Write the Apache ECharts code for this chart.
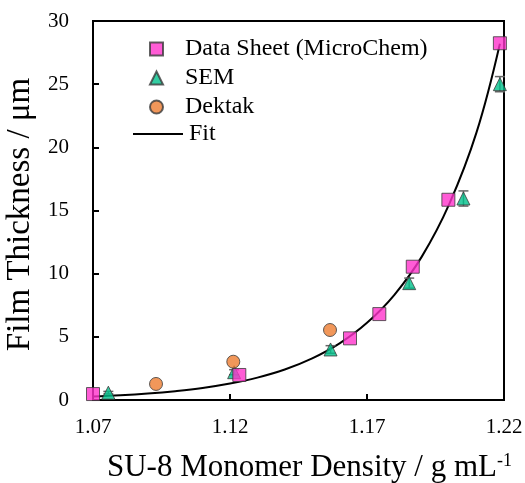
<!DOCTYPE html>
<html>
<head>
<meta charset="utf-8">
<script src="https://cdn.jsdelivr.net/npm/echarts@6/dist/echarts.min.js"></script>
<style>html,body{margin:0;padding:0;background:#fff;}#c{width:525px;height:483px;}</style>
</head>
<body>
<div id="c"></div>
<script>
// Data
var dsX = [1.070, 1.1234, 1.1638, 1.1745, 1.1867, 1.1997, 1.2185];
var dsY = [0.47, 1.98, 4.88, 6.8, 10.55, 15.85, 28.24];
var semX = [1.0756, 1.1215, 1.1567, 1.1854, 1.2052, 1.2185];
var semY = [0.58, 2.2, 4.0, 9.25, 15.95, 25.0];
var semErr = [0.1, 0.2, 0.3, 0.4, 0.6, 0.6];
var dkX = [1.093, 1.1212, 1.1565];
var dkY = [1.27, 3.03, 5.54];
var fitX = [1.07, 1.08, 1.09, 1.10, 1.11, 1.12, 1.13, 1.14, 1.15, 1.16, 1.17, 1.18, 1.19, 1.20, 1.21, 1.2185];
var fitY = [0.27, 0.37, 0.51, 0.70, 0.95, 1.30, 1.77, 2.41, 3.29, 4.48, 6.11, 8.33, 11.35, 15.5, 21.2, 28.2];
var xTicks = [1.07, 1.12, 1.17, 1.22];
var yTicks = [0, 5, 10, 15, 20, 25, 30];

function pairs(xs, ys) { return xs.map(function (x, i) { return [x, ys[i]]; }); }

var FONT = '"Liberation Serif", "Times New Roman", serif';
var chart = echarts.init(document.getElementById('c'), null, {renderer: 'canvas'});
var border = {borderColor: '#3a3a3a', borderWidth: 1};
var legendText = {fontFamily: FONT, fontSize: 24, color: '#000'};

chart.setOption({
  animation: false,
  backgroundColor: '#ffffff',
  grid: {left: 93, right: 21, top: 21, bottom: 83, show: true, borderColor: '#000', borderWidth: 2,
         containLabel: false, outerBoundsMode: 'none'},
  legend: [
    {
      orient: 'vertical', left: 144, top: 32, itemWidth: 13, itemHeight: 13, itemGap: 5,
      data: ['Data Sheet (MicroChem)', 'SEM', 'Dektak'],
      textStyle: Object.assign({padding: [0, 0, 0, 17]}, legendText)
    },
    {
      orient: 'vertical', left: 128, top: 117, itemWidth: 50, itemHeight: 2,
      data: [{name: 'Fit', icon: 'rect'}],
      itemStyle: {color: '#000', borderWidth: 0},
      textStyle: Object.assign({padding: [0, 0, 0, 1]}, legendText)
    }
  ],
  xAxis: {
    type: 'value', min: xTicks[0], max: xTicks[xTicks.length - 1], interval: 0.05,
    name: '{t|SU-8 Monomer Density / g mL}{s|-1}', nameLocation: 'middle', nameGap: 52,
    nameTextStyle: {padding: [0, 0, 0, 22], rich: {t: {fontFamily: FONT, fontSize: 31, color: '#000'}, s: {fontFamily: FONT, fontSize: 18, color: '#000', verticalAlign: 'top', padding: [0,0,12,0]}}},
    axisLine: {lineStyle: {color: '#000', width: 2}},
    axisTick: {inside: true, length: 6, lineStyle: {color: '#000', width: 2}},
    axisLabel: {margin: 17, fontFamily: FONT, fontSize: 21, color: '#000', formatter: function (v) { return v.toFixed(2); }},
    splitLine: {show: false}
  },
  yAxis: {
    type: 'value', min: yTicks[0], max: yTicks[yTicks.length - 1], interval: 5,
    name: 'Film Thickness / μm', nameLocation: 'middle', nameGap: 54,
    nameTextStyle: {fontFamily: FONT, fontSize: 33, color: '#000', padding: [0, 8, 0, 0]},
    axisLine: {lineStyle: {color: '#000', width: 2}},
    axisTick: {inside: true, length: 6, lineStyle: {color: '#000', width: 2}},
    axisLabel: {margin: 24, fontFamily: FONT, fontSize: 21, color: '#000'},
    splitLine: {show: false}
  },
  series: [
    {
      name: 'Fit', type: 'line', data: pairs(fitX, fitY), smooth: 0.4, symbol: 'none',
      lineStyle: {color: '#000', width: 2}, itemStyle: {color: '#000'}, z: 2
    },
    {
      name: 'SEM err', type: 'custom', z: 3,
      data: semX.map(function (x, i) { return [x, semY[i] - semErr[i], semY[i] + semErr[i]]; }),
      renderItem: function (params, api) {
        var lo = api.coord([api.value(0), api.value(1)]);
        var hi = api.coord([api.value(0), api.value(2)]);
        var w = 5;
        var st = {stroke: '#666', lineWidth: 1.5};
        return {type: 'group', children: [
          {type: 'line', shape: {x1: hi[0], y1: hi[1], x2: lo[0], y2: lo[1]}, style: st},
          {type: 'line', shape: {x1: hi[0] - w, y1: hi[1], x2: hi[0] + w, y2: hi[1]}, style: st},
          {type: 'line', shape: {x1: lo[0] - w, y1: lo[1], x2: lo[0] + w, y2: lo[1]}, style: st}
        ]};
      }
    },
    {
      name: 'Data Sheet (MicroChem)', type: 'scatter', data: pairs(dsX, dsY), symbol: 'rect', symbolSize: 13,
      itemStyle: Object.assign({color: '#ff33cc'}, border), z: 5
    },
    {
      name: 'SEM', type: 'scatter', data: pairs(semX, semY), symbol: 'triangle', symbolSize: 13,
      itemStyle: Object.assign({color: '#00c08b'}, border), z: 4
    },
    {
      name: 'Dektak', type: 'scatter', data: pairs(dkX, dkY), symbol: 'circle', symbolSize: 13,
      itemStyle: Object.assign({color: '#ed7d31'}, border), z: 4
    }
  ]
});
</script>
</body>
</html>
